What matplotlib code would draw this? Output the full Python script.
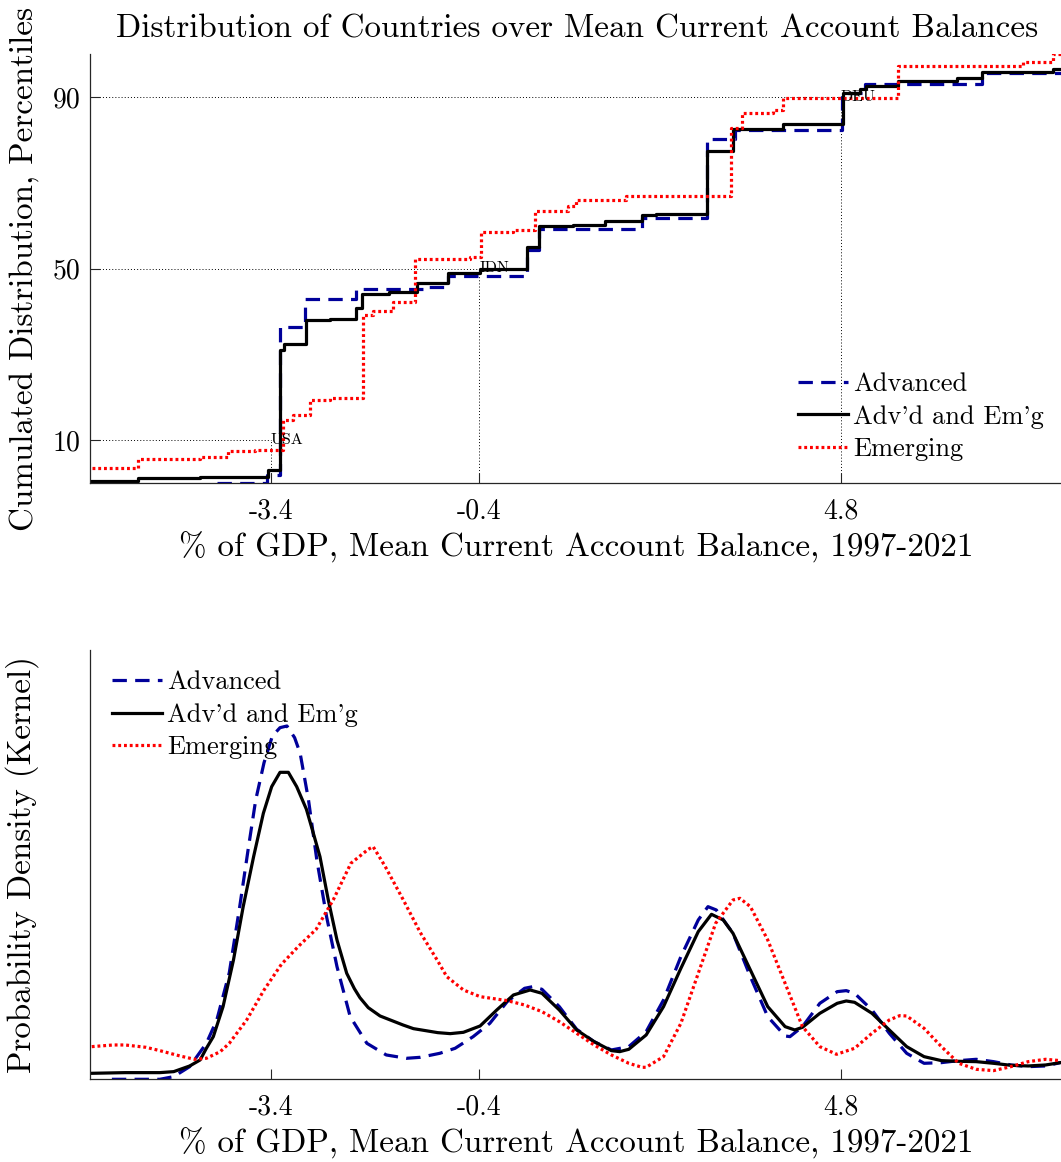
import matplotlib
matplotlib.use("Agg")
import matplotlib.pyplot as plt
import numpy as np

plt.rcParams['font.family'] = ['cmr10', 'DejaVu Serif']
plt.rcParams['axes.unicode_minus'] = False
plt.rcParams['axes.formatter.use_mathtext'] = False

# ---------------- data: cumulative distributions (percentiles) ----------------
adv_x = [-4.18, -3.46, -3.27, -2.91, -2.18, -1.17, -0.85, 0.28, 0.46, 1.94, 2.87, 3.28, 4.82, 5.15, 6.84, 8.0]
adv_y = [0.0, 1.8, 36.4, 42.8, 45.2, 45.8, 48.3, 54.2, 59.2, 61.7, 80.2, 82.3, 90.9, 93.0, 95.6, 95.6]

all_x = [-5.98, -5.31, -4.42, -3.85, -3.44, -3.27, -3.21, -2.90, -2.55, -2.17, -2.09, -1.70, -1.30, -0.85,
         -0.39, 0.28, 0.46, 0.95, 1.41, 1.94, 2.14, 2.87, 3.25, 3.97, 4.83, 5.08, 5.17, 5.62, 6.48, 6.84, 7.85, 8.0]
all_y = [0.5, 1.05, 1.3, 1.5, 3.1, 31.0, 32.4, 38.0, 38.3, 40.7, 44.0, 44.5, 46.6, 48.9,
         49.8, 55.0, 59.8, 60.2, 61.0, 62.5, 62.7, 77.3, 82.5, 83.7, 90.9, 91.8, 92.5, 93.6, 94.4, 95.8, 96.4, 96.4]

emg_x = [-5.98, -5.31, -4.42, -4.02, -3.63, -3.22, -3.08, -2.84, -2.55, -2.08, -1.93, -1.64, -1.33, -0.54,
         -0.37, 0.08, 0.40, 0.87, 0.99, 1.71, 3.22, 3.38, 3.82, 3.97, 5.62, 7.42, 7.85, 8.0]
emg_y = [3.4, 5.7, 6.0, 7.5, 7.8, 14.7, 15.8, 19.3, 19.8, 39.2, 40.0, 42.3, 52.2, 52.6,
         58.4, 59.0, 63.5, 64.5, 66.0, 66.8, 82.7, 86.2, 87.0, 89.7, 97.3, 98.1, 100.0, 100.0]

ref_pct = [10, 50, 90]
ref_val = [-3.4, -0.4, 4.8]
ref_cty = ['USA', 'IDN', 'DEU']
xtick_labels = ['-3.4', '-0.4', '4.8']
ytick_vals = [10, 50, 90]

# ---------------- data: kernel densities (arbitrary units) ----------------
kall_x = [-5.98, -5.5, -5.0, -4.8, -4.57, -4.42, -4.33, -4.23, -4.09, -3.94, -3.80, -3.65, -3.51, -3.39,
          -3.27, -3.15, -3.03, -2.89, -2.79, -2.695, -2.575, -2.45, -2.31, -2.2, -2.12, -2.0, -1.83, -1.5, -1.35, -1.0, -0.82,
          -0.63, -0.39, -0.15, 0.09, 0.33, 0.5, 0.75, 1.0, 1.25, 1.5, 1.62, 1.75, 2.0, 2.25, 2.5, 2.75, 2.94,
          3.11, 3.25, 3.5, 3.75, 4.0, 4.14, 4.25, 4.5, 4.75, 4.88, 5.0, 5.25, 5.5, 5.75, 6.0, 6.25, 6.5, 6.75,
          7.0, 7.25, 7.5, 7.75, 7.96]
kall_y = [0.018, 0.020, 0.020, 0.023, 0.040, 0.058, 0.093, 0.128, 0.218, 0.358, 0.518, 0.668, 0.798, 0.878,
          0.921, 0.921, 0.878, 0.810, 0.738, 0.668, 0.538, 0.418, 0.318, 0.272, 0.245, 0.215, 0.190, 0.163, 0.152, 0.140, 0.137,
          0.141, 0.160, 0.208, 0.253, 0.268, 0.258, 0.208, 0.148, 0.113, 0.086, 0.083, 0.090, 0.133, 0.218, 0.333, 0.443, 0.495,
          0.478, 0.438, 0.328, 0.218, 0.158, 0.148, 0.156, 0.198, 0.228, 0.235, 0.231, 0.198, 0.148, 0.098, 0.068, 0.056, 0.054, 0.053,
          0.048, 0.042, 0.040, 0.043, 0.050]

kadv_x = [-5.69, -5.0, -4.8, -4.57, -4.33, -4.18, -4.0, -3.85, -3.73, -3.62, -3.5, -3.38, -3.27, -3.17,
          -3.06, -2.98, -2.86, -2.74, -2.60, -2.45, -2.26, -2.02, -1.74, -1.45, -1.25, -0.97, -0.75,
          -0.49, -0.25, 0.0, 0.25, 0.37, 0.5, 0.75, 1.0, 1.25, 1.5, 1.75, 2.0, 2.25, 2.5, 2.75, 2.89, 3.01,
          3.25, 3.5, 3.75, 4.0, 4.07, 4.25, 4.5, 4.75, 4.88, 5.0, 5.25, 5.5, 5.75, 6.0, 6.25, 6.5, 6.75,
          7.0, 7.25, 7.5, 7.75, 7.96]
kadv_y = [0.0, 0.0, 0.008, 0.038, 0.108, 0.178, 0.320, 0.518, 0.688, 0.838, 0.950, 1.030, 1.055, 1.060,
          1.025, 0.978, 0.838, 0.658, 0.488, 0.338, 0.188, 0.108, 0.073, 0.063, 0.066, 0.078, 0.093,
          0.128, 0.168, 0.233, 0.273, 0.278, 0.270, 0.218, 0.150, 0.113, 0.088, 0.098, 0.143, 0.238, 0.368, 0.478, 0.518, 0.508,
          0.438, 0.308, 0.188, 0.130, 0.128, 0.158, 0.228, 0.263, 0.266, 0.258, 0.208, 0.138, 0.078, 0.048, 0.050, 0.056, 0.060,
          0.053, 0.043, 0.038, 0.040, 0.050]

kemg_x = [-5.98, -5.67, -5.5, -5.2, -5.0, -4.71, -4.5, -4.33, -4.13, -4.0, -3.75, -3.5, -3.25, -3.0, -2.75,
          -2.5, -2.25, -2.0, -1.93, -1.76, -1.5, -1.25, -1.0, -0.87, -0.63, -0.39, 0.0, 0.25, 0.5, 0.75,
          1.0, 1.25, 1.5, 1.75, 1.94, 2.0, 2.25, 2.5, 2.75, 3.0, 3.25, 3.35, 3.5, 3.75, 4.0, 4.25, 4.5,
          4.74, 5.0, 5.25, 5.5, 5.65, 5.75, 6.0, 6.25, 6.5, 6.75, 7.0, 7.25, 7.5, 7.75, 7.96]
kemg_y = [0.098, 0.103, 0.103, 0.096, 0.086, 0.070, 0.060, 0.063, 0.083, 0.108, 0.178, 0.268, 0.345, 0.400, 0.450,
          0.540, 0.648, 0.690, 0.698, 0.640, 0.540, 0.440, 0.355, 0.308, 0.268, 0.248, 0.236, 0.223, 0.203, 0.173,
          0.138, 0.103, 0.073, 0.048, 0.036, 0.036, 0.068, 0.168, 0.318, 0.468, 0.538, 0.543, 0.518, 0.418, 0.288, 0.158, 0.098,
          0.075, 0.093, 0.138, 0.178, 0.191, 0.190, 0.153, 0.098, 0.048, 0.030, 0.026, 0.038, 0.053, 0.060, 0.056]

labels = ['Advanced', "Adv'd and Em'g", 'Emerging']

# ---------------- styling ----------------
BLUE = '#00009a'
RED = '#ff0000'
LW = 2.3
FS = 23.8
W, H = 1061, 1162
fig = plt.figure(figsize=(W / 100, H / 100), dpi=100)

def px_axes(left, top, right, bottom):
    return fig.add_axes([left / W, 1 - bottom / H, (right - left) / W, (bottom - top) / H])

ax1 = px_axes(90.35, 54, 1063, 483)
ax2 = px_axes(90.35, 650, 1063, 1079.3)

def style(ax):
    for s in ['top', 'right']:
        ax.spines[s].set_visible(False)
    for s in ['left', 'bottom']:
        ax.spines[s].set_color('#262626')
        ax.spines[s].set_linewidth(0.9)
    ax.tick_params(direction='in', length=7, width=0.8, color='#262626', labelsize=20)
    ax.tick_params(axis='x', pad=11)
    ax.tick_params(axis='y', pad=7)
    ax.set_xlim(-6, 8)
    ax.set_xticks(ref_val)
    ax.set_xticklabels(xtick_labels)

style(ax1)
style(ax2)

DASH = (0, (4.5, 2.6))
DOT = (0, (0.9, 0.9))

# top: cumulative step curves
l1, = ax1.step(adv_x, adv_y, where='post', color=BLUE, lw=LW, linestyle=DASH, label=labels[0])
l2, = ax1.step(all_x, all_y, where='post', color='black', lw=LW, label=labels[1])
l3, = ax1.step(emg_x, emg_y, where='post', color=RED, lw=LW, linestyle=DOT, label=labels[2])
for p, v, c in zip(ref_pct, ref_val, ref_cty):
    ax1.plot([-6, v], [p, p], color='black', lw=0.7, linestyle=(0, (1, 2.2)), zorder=1)
    ax1.plot([v, v], [0, p], color='black', lw=0.7, linestyle=(0, (1, 2.2)), zorder=1)
    ax1.text(v, p, c, fontsize=11.5, ha='left', va='center')
ax1.set_ylim(0, 100)
ax1.set_yticks(ytick_vals)
ax1.set_yticklabels([str(v) for v in ytick_vals])
ax1.set_title('Distribution of Countries over Mean Current Account Balances', fontsize=FS, pad=12)
ax1.set_xlabel('% of GDP, Mean Current Account Balance, 1997-2021', fontsize=FS, labelpad=5)
ax1.set_ylabel('Cumulated Distribution, Percentiles', fontsize=FS)
ax1.yaxis.set_label_coords(-0.0525, 0.5)
leg1 = ax1.legend(handles=[l1, l2, l3], loc='center', bbox_to_anchor=(0.854, 0.1545), frameon=False,
                  fontsize=19, handlelength=1.9, handletextpad=0.2, labelspacing=0.33, borderpad=0.2)

# bottom: kernel densities
k1, = ax2.plot(kadv_x, kadv_y, color=BLUE, lw=LW, linestyle=DASH, label=labels[0])
k2, = ax2.plot(kall_x, kall_y, color='black', lw=LW, label=labels[1])
k3, = ax2.plot(kemg_x, kemg_y, color=RED, lw=LW, linestyle=DOT, label=labels[2])
ax2.set_ylim(0, 1.288)
ax2.set_yticks([])
ax2.set_xlabel('% of GDP, Mean Current Account Balance, 1997-2021', fontsize=FS, labelpad=5)
ax2.set_ylabel('Probability Density (Kernel)', fontsize=FS)
ax2.yaxis.set_label_coords(-0.0525, 0.5)
leg2 = ax2.legend(handles=[k1, k2, k3], loc='center', bbox_to_anchor=(0.1487, 0.8486), frameon=False,
                  fontsize=19, handlelength=1.9, handletextpad=0.2, labelspacing=0.33, borderpad=0.2)

fig.savefig('out.png', dpi=100)
